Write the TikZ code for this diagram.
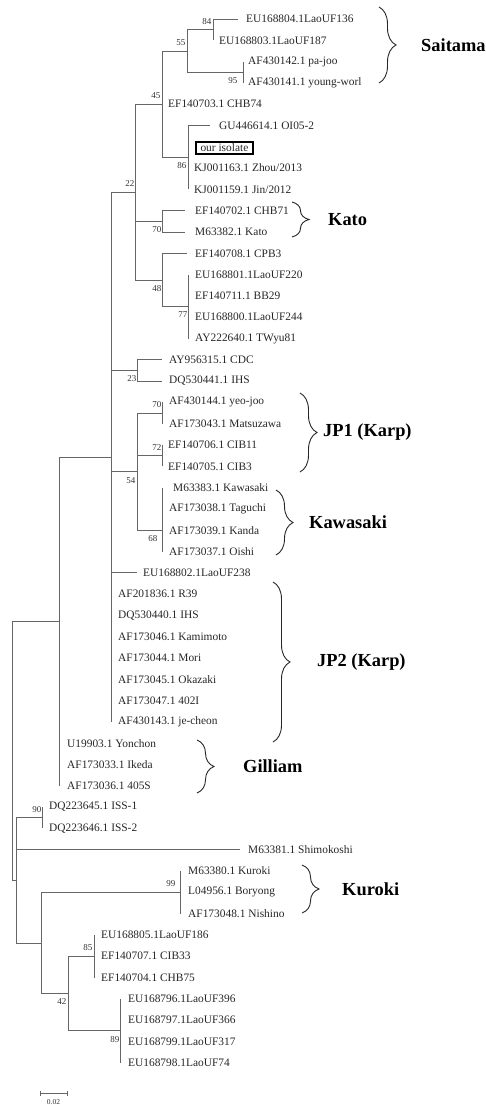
\documentclass[tikz,border=0pt]{standalone}
\usepackage{fontspec}
\setmainfont{Liberation Serif}
\usetikzlibrary{decorations.pathreplacing}
\begin{document}
\begin{tikzpicture}[x=1pt,y=-1pt,
  branch/.style={black!60,line width=0.8pt},
  leaf/.style={anchor=west,inner sep=0pt,text=black!85,font=\fontsize{11.4}{12}\selectfont},
  isolate/.style={anchor=west,draw=black,line width=2pt,inner xsep=4.5pt,inner ysep=2.4pt,text=black!85,font=\fontsize{11.4}{12}\selectfont},
  boot/.style={anchor=east,inner sep=0.5pt,text=black!80,font=\fontsize{9}{9}\selectfont},
  clade/.style={anchor=west,inner sep=0pt,font=\fontsize{18.4}{20}\selectfont\bfseries},
  cladebrace/.style={decorate,decoration={brace,amplitude=17pt},black!85,line width=0.9pt}]
\useasboundingbox (0,0) rectangle (485,1105);
% leaves: number / branch tip x / label x / name
\foreach \i/\tx/\lx/\txt in {1/238/246/EU168804.1LaoUF136,2/213/219/EU168803.1LaoUF187,
  3/243/248/AF430142.1 pa-joo,4/243/248/AF430141.1 young-worl,5/162/168/EF140703.1 CHB74,
  6/210/219/GU446614.1 OI05-2,8/188/194/{KJ001163.1 Zhou/2013},9/188/194/{KJ001159.1 Jin/2012},
  10/185/195/EF140702.1 CHB71,11/185/195/M63382.1 Kato,12/187/195/EF140708.1 CPB3,
  13/188/195/EU168801.1LaoUF220,14/188/195/EF140711.1 BB29,15/188/195/EU168800.1LaoUF244,
  16/188/195/AY222640.1 TWyu81,17/162/169/AY956315.1 CDC,18/162/169/DQ530441.1 IHS,
  19/162/169/AF430144.1 yeo-joo,20/162/169/AF173043.1 Matsuzawa,21/162/168/EF140706.1 CIB11,
  22/162/168/EF140705.1 CIB3,23/162/173/M63383.1 Kawasaki,24/162/169/AF173038.1 Taguchi,
  25/162/169/AF173039.1 Kanda,26/162/169/AF173037.1 Oishi,27/137/143/EU168802.1LaoUF238,
  28/111/118/AF201836.1 R39,29/111/118/DQ530440.1 IHS,30/111/118/AF173046.1 Kamimoto,
  31/111/118/AF173044.1 Mori,32/111/118/AF173045.1 Okazaki,33/111/118/AF173047.1 402I,
  34/111/118/AF430143.1 je-cheon,35/59/67/U19903.1 Yonchon,36/59/67/AF173033.1 Ikeda,
  37/59/67/AF173036.1 405S,38/42/49/DQ223645.1 ISS-1,39/42/49/DQ223646.1 ISS-2,
  40/240/248/M63381.1 Shimokoshi,41/180/188/M63380.1 Kuroki,42/180/188/L04956.1 Boryong,
  43/180/188/AF173048.1 Nishino,44/94/101/EU168805.1LaoUF186,45/94/101/EF140707.1 CIB33,
  46/94/101/EF140704.1 CHB75,47/120/128/EU168796.1LaoUF396,48/120/128/EU168797.1LaoUF366,
  49/120/128/EU168799.1LaoUF317,50/120/128/EU168798.1LaoUF74}
  {\coordinate (t\i) at (\tx,{19+(\i-1)*21.3});
   \node[leaf] (l\i) at (\lx,{19+(\i-1)*21.3}) {\txt};}
\coordinate (t7) at (188,146.8);
\node[isolate] (l7) at (195,148) {our isolate}; % boxed sample
% inner nodes
\coordinate (n84) at (213,29.65);
\coordinate (n95) at (243,72.25);
\coordinate (n55) at (187,50.95);
\coordinate (n86) at (188,157.45);
\coordinate (n45) at (162,104.2);
\coordinate (n70a) at (162,221.35);
\coordinate (n77) at (188,306.55);
\coordinate (n48) at (162,279.9);
\coordinate (n22) at (135,192.05);
\coordinate (n23) at (137,370.45);
\coordinate (n70b) at (162,413.05);
\coordinate (n72) at (162,455.65);
\coordinate (n68) at (162,530.2);
\coordinate (n54) at (137,471.6);
\coordinate (n111) at (111,457);
\coordinate (n59) at (59,621.4);
\coordinate (n90) at (42,817.75);
\coordinate (n99) at (180,892.3);
\coordinate (n85) at (94,956.2);
\coordinate (n89) at (120,1030.75);
\coordinate (n42) at (68,993.5);
\coordinate (nK) at (41,942.9);
\coordinate (n16) at (16,880.3);
\coordinate (root) at (12,750.85);
% branches, parent / child
\foreach \p/\c in {n84/t1,n84/t2,n95/t3,n95/t4,n55/n84,n55/n95,
  n86/t6,n86/t7,n86/t8,n86/t9,n45/n55,n45/t5,n45/n86,
  n70a/t10,n70a/t11,n77/t13,n77/t14,n77/t15,n77/t16,n48/t12,n48/n77,
  n22/n45,n22/n70a,n22/n48,n23/t17,n23/t18,n70b/t19,n70b/t20,n72/t21,n72/t22,
  n68/t23,n68/t24,n68/t25,n68/t26,n54/n70b,n54/n72,n54/n68,
  n111/n22,n111/n23,n111/n54,n111/t27,n111/t28,n111/t29,n111/t30,n111/t31,
  n111/t32,n111/t33,n111/t34,n59/n111,n59/t35,n59/t36,n59/t37,
  n90/t38,n90/t39,n99/t41,n99/t42,n99/t43,n85/t44,n85/t45,n85/t46,
  n89/t47,n89/t48,n89/t49,n89/t50,n42/n85,n42/n89,nK/n99,nK/n42,
  n16/n90,n16/t40,n16/nK,root/n59,root/n16}
  \draw[branch] (\p) |- (\c);
% bootstrap values: node / value / up or down / shift
\foreach \n/\v/\s/\dx in {n84/84/1/-1,n95/95/-1/-5,n55/55/1/-1,n45/45/1/-1,n86/86/-1/-1,
  n22/22/1/0,n70a/70/-1/0,n48/48/-1/0,n77/77/-1/0,n23/23/-1/0,n70b/70/1/0,n72/72/1/0,
  n54/54/-1/-1,n68/68/-1/-4,n90/90/1/0,n99/99/1/-4,n85/85/1/-1,n42/42/-1/-1,n89/89/-1/0}
  \node[boot,xshift=\dx pt,yshift=\s*8.5pt] (b\n) at (\n) {\v};
% clades
\foreach \nm/\txt/\bx/\ya/\yb/\lx in {sai/Saitama/379/7/83/421,kato/Kato/292/202/237/328,
  jpa/JP1 (Karp)/300/393/472/323,kaw/Kawasaki/276/490/555/309,jpb/JP2 (Karp)/273/582/742/317,
  gil/Gilliam/197/740/793/243,kur/Kuroki/302/865/913/342}
  {\draw[cladebrace] (\bx,\ya) -- (\bx,\yb);
   \node[clade] (c\nm) at (\lx,{(\ya+\yb)/2}) {\txt};}
% scale bar
\coordinate (sa) at (40,1093);
\coordinate (sb) at (67,1093);
\draw[branch] (sa) -- (sb);
\draw[branch] ([yshift=2.5pt]sa) -- ([yshift=-2.5pt]sa);
\draw[branch] ([yshift=2.5pt]sb) -- ([yshift=-2.5pt]sb);
\node[boot,anchor=center,font=\fontsize{7.5}{8}\selectfont] (scale) at (53.5,1102) {0.02};
\end{tikzpicture}
\end{document}
